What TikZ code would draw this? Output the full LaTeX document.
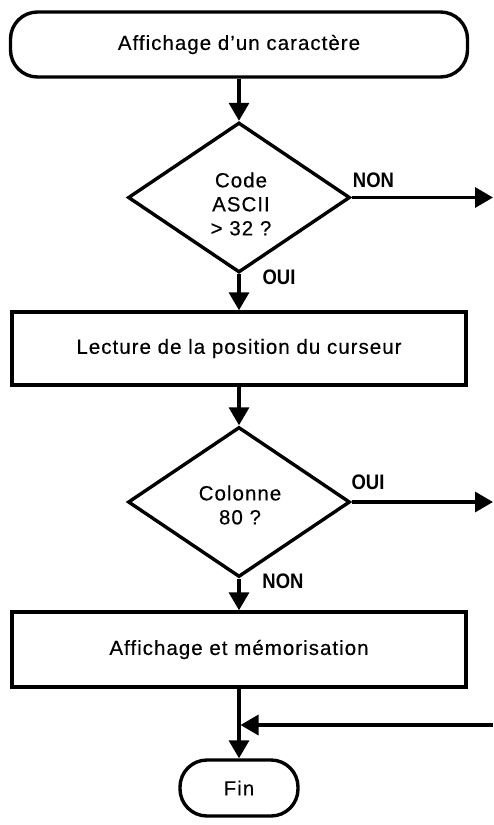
\documentclass[tikz,border=0pt]{standalone}
\usepackage{fontspec}
\setmainfont{Liberation Sans}
\usetikzlibrary{shapes.geometric,arrows.meta}
\newfontfamily\wideface[LetterSpace=5,FakeBold=0.4]{Liberation Sans}
\newfontfamily\labface[FakeStretch=0.88]{Liberation Sans Bold}
\tikzset{
  every picture/.style={x=1pt,y=-1pt},
  ln/.style={line width=3.4pt,line join=miter},
  arr/.style={ln,-{Triangle[length=18pt,width=20pt]}},
  txt/.style={font=\wideface\fontsize{20.5}{24}\selectfont,align=center},
  term/.style={ln,draw,rounded corners=27pt,txt,inner sep=0pt},
  proc/.style={ln,draw,txt,inner sep=0pt,minimum width=454pt,minimum height=73pt},
  test/.style={ln,draw,diamond,txt,inner sep=0pt,minimum width=222pt,minimum height=150pt},
  lab/.style={font=\labface\fontsize{21}{21}\selectfont,inner sep=0pt}
}
\begin{document}
\begin{tikzpicture}
\useasboundingbox (0,0) rectangle (493,825);
% steps of the flowchart
\node[term,minimum width=457pt,minimum height=65pt] (start) at (239,44.5) {Affichage d’un caractère};
\node[test] (ascii) at (239,197.5) {};
\node[txt] (asciitxt) at (241,204) {Code\\ASCII\\> 32 ?};
\node[proc] (lecture) at (239,348.5) {Lecture de la position du curseur};
\node[test] (col) at (239,502) {};
\node[txt] (coltxt) at (240,505) {Colonne\\80 ?};
\node[proc,minimum height=75pt] (aff) at (239,649.5) {Affichage et mémorisation};
\node[term,minimum width=118pt,minimum height=56pt] (fin) at (239,788) {Fin};
% branch labels
\node[lab] (non1) at (373.5,180) {NON};
\node[lab] (oui1) at (279,277.5) {OUI};
\node[lab] (oui2) at (368,482) {OUI};
\node[lab] (non2) at (283,581.5) {NON};
% free ends on the right margin
\coordinate (out1) at (493,197.5);
\coordinate (out2) at (493,502);
\coordinate (back) at (493,725);
\coordinate (join) at (240.5,725);
% connectors
\draw[arr] (start.south) -- (ascii.north);
\draw[arr] (ascii.east) -- (out1);
\draw[arr] (ascii.south) -- (lecture.north);
\draw[arr] (lecture.south) -- (col.north);
\draw[arr] (col.east) -- (out2);
\draw[arr] (col.south) -- (aff.north);
\draw[arr] (aff.south) -- (fin.north);
\draw[arr] (back) -- (join);
\end{tikzpicture}
\end{document}
